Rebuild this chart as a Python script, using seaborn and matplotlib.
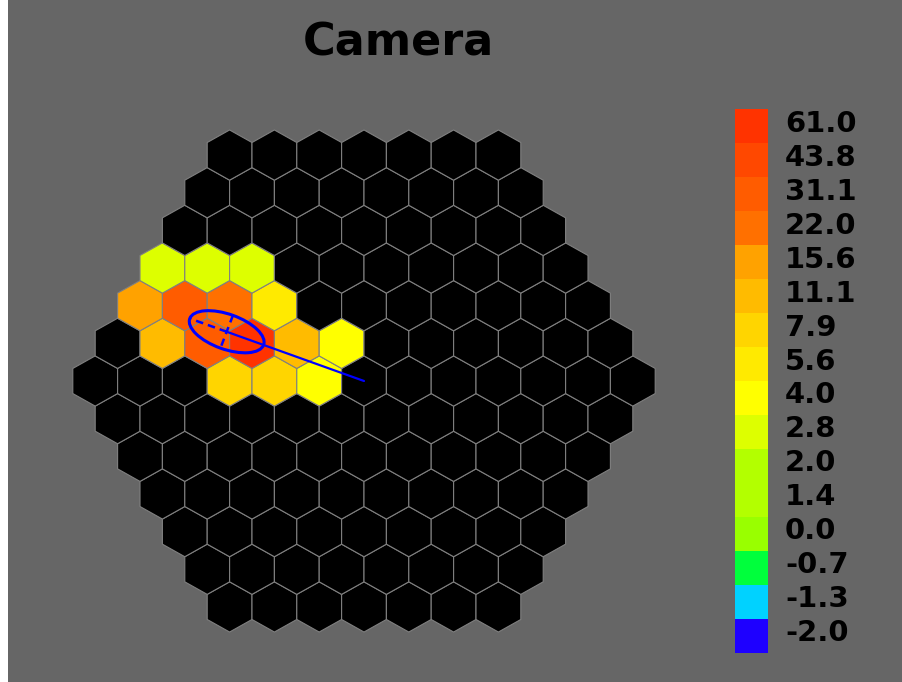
import numpy as np
import matplotlib
matplotlib.use("Agg")
import matplotlib.pyplot as plt
from matplotlib.colors import ListedColormap, BoundaryNorm
from matplotlib.patches import RegularPolygon, Ellipse, Rectangle
from matplotlib.collections import PatchCollection
from matplotlib.transforms import ScaledTranslation
import seaborn as sns

# ---- colour scale: lower edge of each level and its colour (bottom to top)
levels = [-2.0, -1.3, -0.7, 0.0, 1.4, 2.0, 2.8, 4.0, 5.6, 7.9, 11.1, 15.6, 22.0, 31.1, 43.8, 61.0]
level_colors = ["#1e00ff", "#00d2ff", "#00ff3c", "#99ff00", "#b3ff00", "#b3ff00",
                "#ddff00", "#ffff00", "#ffea00", "#ffd500", "#ffbb00", "#ffa200",
                "#ff7000", "#ff5c00", "#ff4800", "#ff3300"]

# ---- pixels with signal: x position (pixel pitch units), row index, charge
lit_x = [-4.5, -3.5, -2.5, -5.0, -4.0, -3.0, -2.0, -4.5, -3.5, -2.5, -1.5, -0.5, -3.0, -2.0, -1.0]
lit_row = [3, 3, 3, 2, 2, 2, 2, 1, 1, 1, 1, 1, 0, 0, 0]
lit_charge = [3.3, 3.1, 3.5, 17.2, 35.4, 25.1, 6.3, 12.5, 33.2, 61.0, 11.8, 4.6, 9.0, 8.4, 4.3]

# ---- Hillas parameters of the image
cog_x, cog_y = -3.065, 1.133
hillas_length, hillas_width = 0.878, 0.402
hillas_psi = -20.3  # degrees

# ---- camera layout: hexagon of hexagonal pixels, 7 pixels per side
n_ring = 6
row_pitch = np.sqrt(3) / 2
hex_radius = 1 / np.sqrt(3)

sns.set_theme(style="white")
plt.rcParams["font.family"] = ["DejaVu Sans"]

W, H = 903, 682
fig = plt.figure(figsize=(W / 100, H / 100), dpi=100, facecolor="#666666")

# camera axes spanning the whole canvas; limits place the camera centre at (364, 381) px
cx_px, cy_px = 364.0, 381.0
sx, sy = 44.8, 43.48
ax = fig.add_axes([0, 0, 1, 1])
ax.set_facecolor("none")
ax.set_xlim(-cx_px / sx, (W - cx_px) / sx)
ax.set_ylim((cy_px - H) / sy, cy_px / sy)
ax.axis("off")

cmap = ListedColormap(level_colors)
norm = BoundaryNorm(levels + [levels[-1] + 1.0], cmap.N)

charge_lookup = {(x, r): q for x, r, q in zip(lit_x, lit_row, lit_charge)}
patches, faces = [], []
for r in range(-n_ring, n_ring + 1):
    n = 2 * n_ring + 1 - abs(r)
    for x in np.arange(n) - (n - 1) / 2:
        patches.append(RegularPolygon((x, r * row_pitch), numVertices=6, radius=hex_radius))
        q = charge_lookup.get((float(x), r))
        faces.append("black" if q is None else cmap(norm(q)))
pc = PatchCollection(patches, facecolors=faces, edgecolors="#808080", linewidths=0.8)
ax.add_collection(pc)

# Hillas ellipse with its axes and the line to the camera centre
ell = Ellipse((cog_x, cog_y), 2 * hillas_length, 2 * hillas_width, angle=hillas_psi,
              fill=False, edgecolor="#0000ff", linewidth=2.2, zorder=5)
ax.add_patch(ell)
psi = np.deg2rad(hillas_psi)
ux, uy = np.cos(psi), np.sin(psi)
ax.plot([cog_x, cog_x - hillas_length * ux], [cog_y, cog_y - hillas_length * uy],
        color="#0000ff", linewidth=1.8, linestyle=(0, (3, 2)), zorder=5)
ax.plot([cog_x - hillas_width * uy, cog_x + hillas_width * uy],
        [cog_y + hillas_width * ux, cog_y - hillas_width * ux],
        color="#0000ff", linewidth=1.8, linestyle=(0, (3, 2)), zorder=5)
ax.plot([cog_x, 0.0], [cog_y, 0.0], color="#0000ff", linewidth=1.6, zorder=5)

# discrete colour scale drawn as a one-column heatmap
cax = fig.add_axes([735 / W, 1 - 652.7 / H, 33 / W, (652.7 - 109.3) / H])
idx = np.arange(len(levels))[::-1].reshape(-1, 1)
sns.heatmap(idx, ax=cax, cmap=cmap, vmin=-0.5, vmax=len(levels) - 0.5, cbar=False,
            xticklabels=False, yticklabels=False)
for s in cax.spines.values():
    s.set_visible(False)

# level labels beside each block, nudged slightly upward
label_tf = cax.get_yaxis_transform() + ScaledTranslation(17 / 100, 2.5 / 100, fig.dpi_scale_trans)
for i, v in enumerate(levels[::-1]):
    cax.text(1.0, i + 0.5, f"{v:.1f}", transform=label_tf, ha="left", va="center",
             fontsize=20.9, fontweight="bold", color="black")

fig.text(398.4 / W, 1 - 55 / H, "Camera", ha="center", va="baseline",
         fontsize=32, fontweight="bold", color="black")

# white margin strip on the left edge
fig.patches.append(Rectangle((0, 0), 8 / W, 1, transform=fig.transFigure,
                             facecolor="white", edgecolor="none"))

fig.savefig("out.png", dpi=100, facecolor=fig.get_facecolor())
